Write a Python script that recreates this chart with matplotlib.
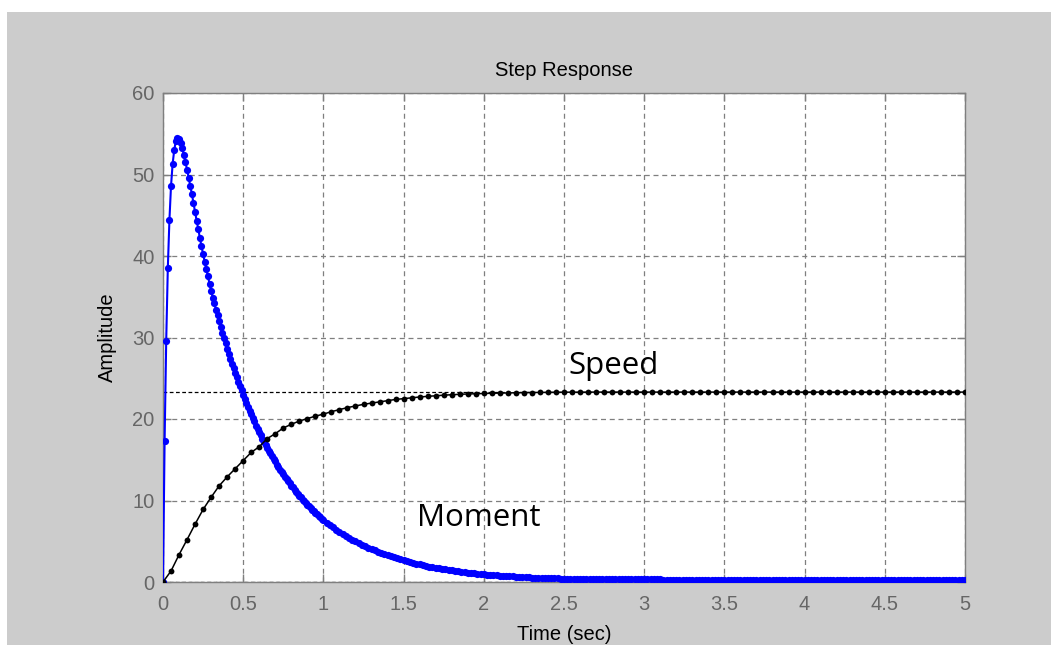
import numpy as np
import matplotlib
matplotlib.use("Agg")
import matplotlib.pyplot as plt
from matplotlib.patches import Rectangle

# ── data ─────────────────────────────────────────────────────────────────────
# Speed: one sample every 0.05 s from 0 to 5 s
SPEED_T = np.round(np.arange(0, 5.0001, 0.05), 3)
SPEED = [
    0.00, 1.35, 3.35, 5.20, 7.10, 8.90, 10.4, 11.8, 12.9, 13.9,
    14.9, 15.9, 16.6, 17.6, 18.2, 18.9, 19.35, 19.75, 20.05, 20.35,
    20.6, 20.9, 21.15, 21.4, 21.6, 21.8, 21.95, 22.1, 22.25, 22.4,
    22.5, 22.6, 22.7, 22.78, 22.85, 22.92, 22.98, 23.03, 23.07, 23.1,
    23.13, 23.16, 23.18, 23.2, 23.22, 23.24, 23.25, 23.26, 23.27, 23.28,
    23.29, 23.29, 23.29, 23.3, 23.3, 23.3, 23.3, 23.3, 23.3, 23.3,
    23.3, 23.3, 23.3, 23.3, 23.3, 23.3, 23.3, 23.3, 23.3, 23.3,
    23.3, 23.3, 23.3, 23.3, 23.3, 23.3, 23.3, 23.3, 23.3, 23.3,
    23.3, 23.3, 23.3, 23.3, 23.3, 23.3, 23.3, 23.3, 23.3, 23.3,
    23.3, 23.3, 23.3, 23.3, 23.3, 23.3, 23.3, 23.3, 23.3, 23.3,
    23.3,
]

# Moment: 0.01 s steps up to 1 s, then 0.02 s steps up to 5 s
MOMENT_T = np.round(np.concatenate([np.arange(0, 1.00001, 0.01),
                                    np.arange(1.02, 5.00001, 0.02)]), 3)
MOMENT = [
    # 0.00 .. 0.30
    0.0, 17.3, 29.6, 38.5, 44.4, 48.6, 51.3, 53.0, 54.1, 54.5,
    54.4, 53.9, 53.2, 52.4, 51.5, 50.6, 49.6, 48.6, 47.6, 46.5,
    45.4, 44.3, 43.3, 42.2, 41.2, 40.2, 39.3, 38.4, 37.5, 36.6,
    35.7,
    # 0.31 .. 1.00
    34.9, 34.2, 33.4, 32.7, 32.0, 31.3, 30.6, 29.9, 29.3, 28.6,
    28.0, 27.4, 26.8, 26.2, 25.6, 25.1, 24.5, 24.0, 23.5, 23.0,
    22.4, 22.0, 21.5, 21.0, 20.6, 20.1, 19.7, 19.2, 18.8, 18.4,
    18.0, 17.6, 17.2, 16.8, 16.5, 16.1, 15.8, 15.4, 15.1, 14.8,
    14.4, 14.1, 13.8, 13.5, 13.2, 12.9, 12.6, 12.4, 12.1, 11.8,
    11.6, 11.3, 11.1, 10.8, 10.6, 10.4, 10.1, 9.91, 9.69, 9.48,
    9.27, 9.07, 8.87, 8.68, 8.49, 8.30, 8.12, 7.94, 7.77, 7.60,
    # 1.02 .. 2.00
    7.29, 6.99, 6.70, 6.42, 6.16, 5.91, 5.66, 5.43, 5.21, 4.99,
    4.79, 4.59, 4.40, 4.22, 4.05, 3.88, 3.72, 3.57, 3.42, 3.28,
    3.15, 3.02, 2.89, 2.77, 2.66, 2.55, 2.45, 2.35, 2.25, 2.16,
    2.07, 1.98, 1.90, 1.82, 1.75, 1.68, 1.61, 1.54, 1.48, 1.42,
    1.36, 1.30, 1.25, 1.20, 1.15, 1.10, 1.06, 1.01, 0.97, 0.93,
    # 2.02 .. 5.00
    0.90, 0.87, 0.84, 0.81, 0.78, 0.75, 0.73, 0.70, 0.68, 0.66,
    0.63, 0.61, 0.59, 0.57, 0.55, 0.53, 0.52, 0.50, 0.48, 0.47,
    0.45, 0.44, 0.43, 0.42, 0.41, 0.40, 0.39, 0.38, 0.37, 0.36,
    0.35, 0.35, 0.34, 0.34, 0.33, 0.33, 0.33, 0.32, 0.32, 0.32,
    0.31, 0.31, 0.31, 0.31, 0.31, 0.31, 0.31, 0.31, 0.31, 0.31,
    0.31, 0.31, 0.31, 0.31, 0.31, 0.30, 0.30, 0.30, 0.30, 0.30,
    0.30, 0.30, 0.30, 0.30, 0.30, 0.30, 0.30, 0.30, 0.30, 0.30,
    0.30, 0.30, 0.30, 0.30, 0.30, 0.30, 0.30, 0.30, 0.30, 0.30,
    0.30, 0.30, 0.30, 0.30, 0.30, 0.30, 0.30, 0.30, 0.30, 0.30,
    0.30, 0.30, 0.30, 0.30, 0.30, 0.30, 0.30, 0.30, 0.30, 0.30,
    0.30, 0.30, 0.30, 0.30, 0.30, 0.30, 0.30, 0.30, 0.30, 0.30,
    0.30, 0.30, 0.30, 0.30, 0.30, 0.30, 0.30, 0.30, 0.30, 0.30,
    0.30, 0.30, 0.30, 0.30, 0.30, 0.30, 0.30, 0.30, 0.30, 0.30,
    0.30, 0.30, 0.30, 0.30, 0.30, 0.30, 0.30, 0.30, 0.30, 0.30,
    0.30, 0.30, 0.30, 0.30, 0.30, 0.30, 0.30, 0.30, 0.30, 0.30,
]

STEADY = [23.3, 0.0]          # dashed steady-state levels
X_TICKS = [0, 0.5, 1, 1.5, 2, 2.5, 3, 3.5, 4, 4.5, 5]
X_TICK_LABELS = ["0", "0.5", "1", "1.5", "2", "2.5", "3", "3.5", "4", "4.5", "5"]
Y_TICKS = [0, 10, 20, 30, 40, 50, 60]

# ── style ────────────────────────────────────────────────────────────────────
W, H, DPI = 1051, 645, 100
BG_GRAY   = "#cccccc"
AX_GRAY   = "#7f7f7f"
TICK_TXT  = "#666666"
FS        = 14.5

plt.rcParams.update({
    "font.family": ["Liberation Sans", "DejaVu Sans"],
    "xtick.direction": "in",
    "ytick.direction": "in",
})

fig = plt.figure(figsize=(W / DPI, H / DPI), dpi=DPI, facecolor="white")
# gray MATLAB figure area, leaving a thin white margin top/left
fig.patches.append(Rectangle((7 / W, 0), 1 - 7 / W, (H - 12) / H,
                             transform=fig.transFigure, facecolor=BG_GRAY,
                             edgecolor="none", zorder=-10))

ax = fig.add_axes([163 / W, 63 / H, 802 / W, 489 / H])
ax.set_facecolor("white")

ax.set_xlim(0, 5)
ax.set_ylim(0, 60)
ax.set_xticks(X_TICKS)
ax.set_xticklabels(X_TICK_LABELS)
ax.set_yticks(Y_TICKS)

ax.grid(True, color=AX_GRAY, linestyle=(0, (4, 3)), linewidth=0.9, zorder=0)
ax.set_axisbelow(True)

for sp in ax.spines.values():
    sp.set_color(AX_GRAY)
    sp.set_linewidth(1.0)

ax.tick_params(axis="both", which="both", top=True, right=True,
               length=6, width=1.0, color=AX_GRAY, labelcolor=TICK_TXT,
               labelsize=FS)
ax.tick_params(axis="x", pad=9)
ax.tick_params(axis="y", pad=6)

# steady-state reference lines
for lvl in STEADY:
    ax.axhline(lvl, color="black", linestyle=(0, (3, 2)), linewidth=0.9, zorder=1)

# moment (blue) and speed (black)
ax.plot(MOMENT_T, MOMENT, color="#0000ff", linewidth=1.5, marker="o",
        markersize=5.2, markeredgewidth=0, zorder=3)
ax.plot(SPEED_T, SPEED, color="black", linewidth=1.1, marker="o",
        markersize=4.2, markeredgewidth=0, zorder=4)

ax.set_title("Step Response", fontsize=FS, pad=12)
ax.set_xlabel("Time (sec)", fontsize=FS, labelpad=8)
ax.set_ylabel("Amplitude", fontsize=FS, labelpad=11)

ax.text(2.525, 26.5, "Speed", fontsize=22.5, family="Open Sans",
        ha="left", va="center", zorder=5)
ax.text(1.583, 7.85, "Moment", fontsize=22.5, family="Open Sans",
        ha="left", va="center", zorder=5)

fig.savefig("out.png", dpi=DPI, facecolor=fig.get_facecolor())
